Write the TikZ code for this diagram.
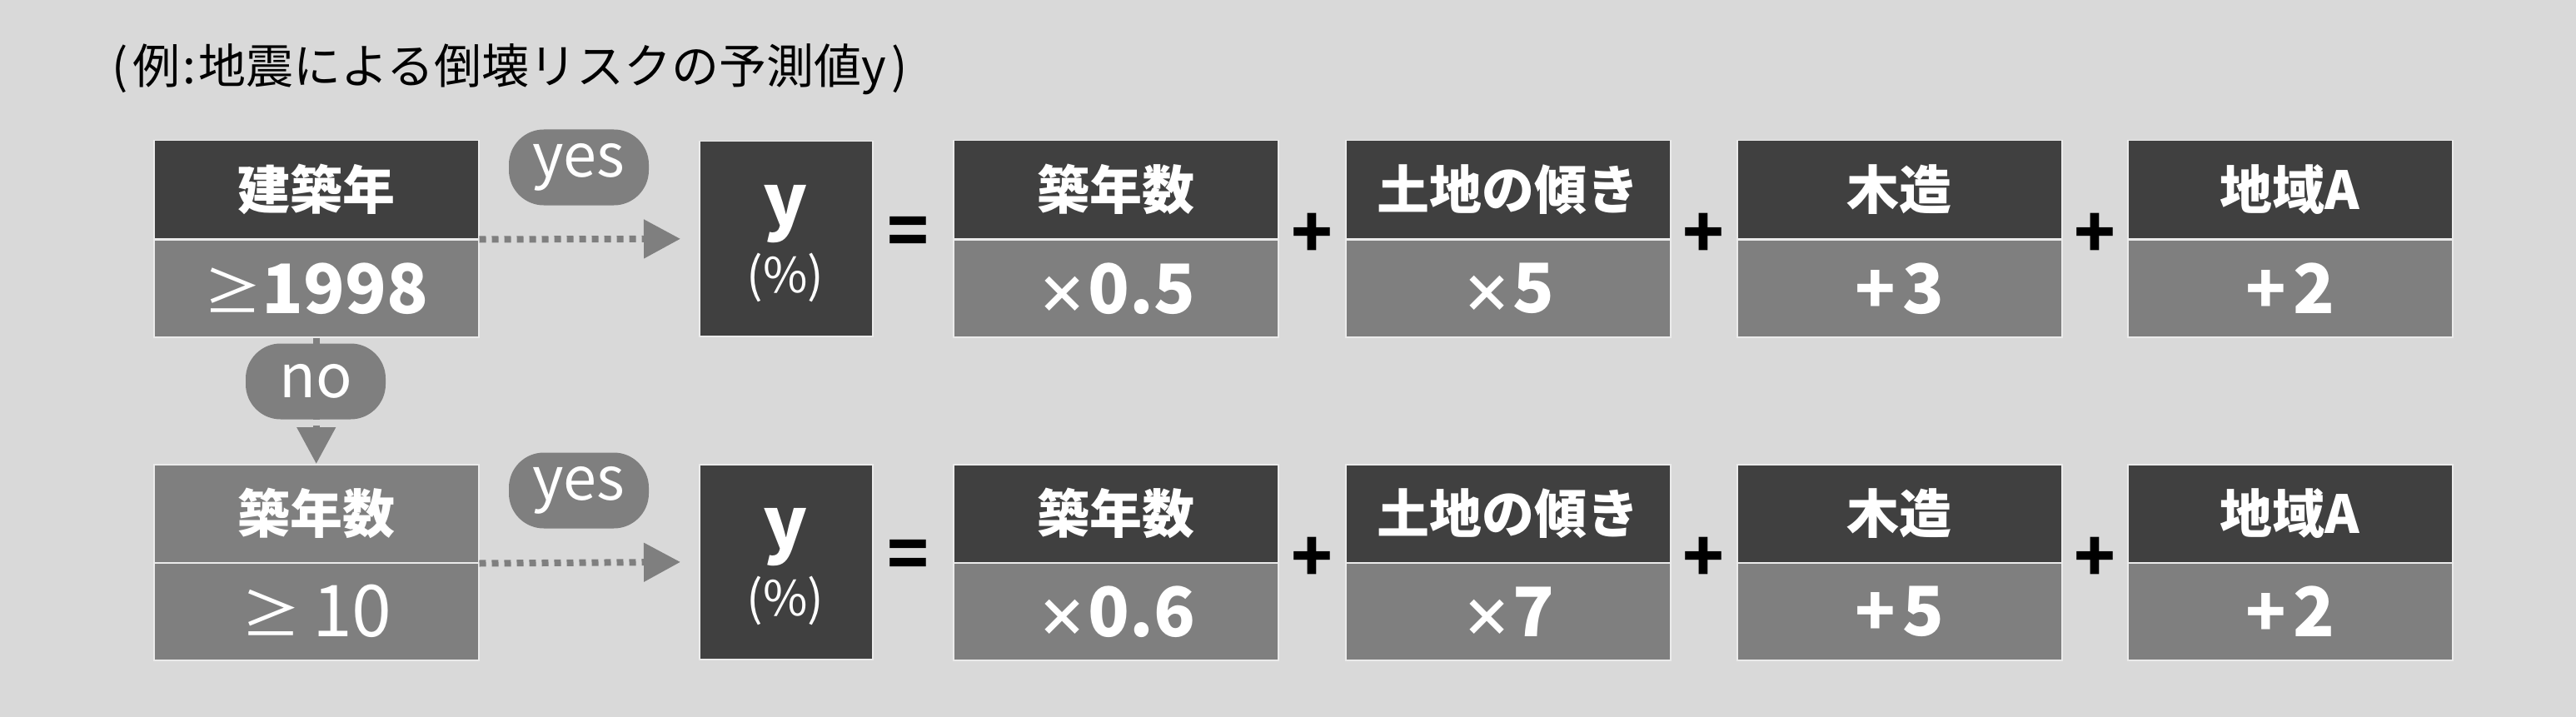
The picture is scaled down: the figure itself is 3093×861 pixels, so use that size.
\documentclass[tikz,border=0pt]{standalone}
\usepackage{fontspec}
\setmainfont{Noto Sans CJK JP}
\usetikzlibrary{arrows.meta}
\definecolor{bg}{HTML}{D9D9D9}
\definecolor{dk}{HTML}{404040}
\definecolor{gy}{HTML}{7F7F7F}
\definecolor{edge}{HTML}{EBEBEB}
\newcommand\tms{{\fontsize{62}{62}\selectfont ×}}
\newcommand\pls{{\fontsize{80}{80}\selectfont +}\hspace{8pt}}
\tikzset{
  cell/.style={draw=edge, line width=1.5pt, text=white, inner sep=0pt, anchor=north west},
  headcell/.style={cell, fill=dk, minimum height=118pt, font=\fontsize{63}{63}\selectfont\bfseries},
  valcell/.style={cell, fill=gy, minimum height=117pt, font=\fontsize{82}{82}\selectfont\bfseries},
  wide/.style={minimum width=390pt},
  ybox/.style={fill=dk, draw=edge, line width=1.5pt, inner sep=0pt, anchor=north west, minimum width=208pt, minimum height=234pt},
  pill/.style={fill=gy, text=white, rounded corners=42pt, minimum width=168pt, minimum height=91pt, inner sep=0pt, font=\fontsize{72}{72}\selectfont},
  conn/.style={draw=gy, line width=8pt, dash pattern=on 8pt off 7pt, -{Triangle[length=44pt,width=45pt]}},
  op/.style={font=\fontsize{82}{82}\selectfont\bfseries, inner sep=0pt},
  ytext/.style={text=white, font=\fontsize{88}{88}\selectfont\bfseries, inner sep=0pt, anchor=base},
  ptext/.style={text=white, font=\fontsize{58}{58}\selectfont, inner sep=0pt},
}
\begin{document}
\begin{tikzpicture}[x=1pt,y=-1pt]
\fill[bg] (0,0) rectangle (3093,861);
\useasboundingbox (0,0) rectangle (3093,861);

\node[anchor=west, font=\fontsize{57}{57}\selectfont, inner sep=0pt] (title) at (134,83) {(\hspace{6pt}例\hspace{3pt}:\hspace{3pt}地震による倒壊リスクの予測値y\hspace{6pt})};

% row 1
\node[headcell, wide] (h1) at (184,168) {建築年};
\node[valcell, wide] (b1) at (184,287) {{\mdseries\fontsize{70}{70}\selectfont ≥}1998};
\node[ybox] (y1) at (839,169) {};
\node[ytext] (y1t) at (943,272) {y};
\node[ptext] (y1p) at (943,333) {(\%)};
\node[op] (eq1) at (1090,284) {=};
\node[headcell, wide] (a1) at (1144,168) {築年数};
\node[valcell, wide] (av1) at (1144,287) {\tms 0.5};
\node[op] (p1a) at (1575,283) {+};
\node[headcell, wide] (c1) at (1615,168) {土地の傾き};
\node[valcell, wide] (cv1) at (1615,287) {\tms 5};
\node[op] (p1b) at (2045,283) {+};
\node[headcell, wide] (d1) at (2085,168) {木造};
\node[valcell, wide] (dv1) at (2085,287) {\pls 3};
\node[op] (p1c) at (2515,283) {+};
\node[headcell, wide] (e1) at (2554,168) {地域A};
\node[valcell, wide] (ev1) at (2554,287) {\pls 2};

% row 2
\node[headcell, wide, fill=gy] (h2) at (184,557) {築年数};
\node[valcell, wide, font=\fontsize{86}{86}\selectfont] (b2) at (184,675) {{\fontsize{72}{72}\selectfont ≥}\hspace{14pt}10};
\node[ybox] (y2) at (839,557) {};
\node[ytext] (y2t) at (943,660) {y};
\node[ptext] (y2p) at (943,721) {(\%)};
\node[op] (eq2) at (1090,672) {=};
\node[headcell, wide] (a2) at (1144,557) {築年数};
\node[valcell, wide] (av2) at (1144,675) {\tms 0.6};
\node[op] (p2a) at (1575,672) {+};
\node[headcell, wide] (c2) at (1615,557) {土地の傾き};
\node[valcell, wide] (cv2) at (1615,675) {\tms 7};
\node[op] (p2b) at (2045,672) {+};
\node[headcell, wide] (d2) at (2085,557) {木造};
\node[valcell, wide] (dv2) at (2085,675) {\pls 5};
\node[op] (p2c) at (2515,672) {+};
\node[headcell, wide] (e2) at (2554,557) {地域A};
\node[valcell, wide] (ev2) at (2554,675) {\pls 2};

% connectors
\draw[conn, shorten >=22pt] (h1.south east) -- (y1.west);
\draw[conn, shorten >=22pt] (h2.south east) -- (y2.west);
\draw[conn] (b1.south) -- (h2.north);

% pills
\node[pill] (yes1) at (695,201) {yes};
\node[pill] (no1) at (379,458) {no};
\node[pill] (yes2) at (695,589) {yes};
\end{tikzpicture}
\end{document}
